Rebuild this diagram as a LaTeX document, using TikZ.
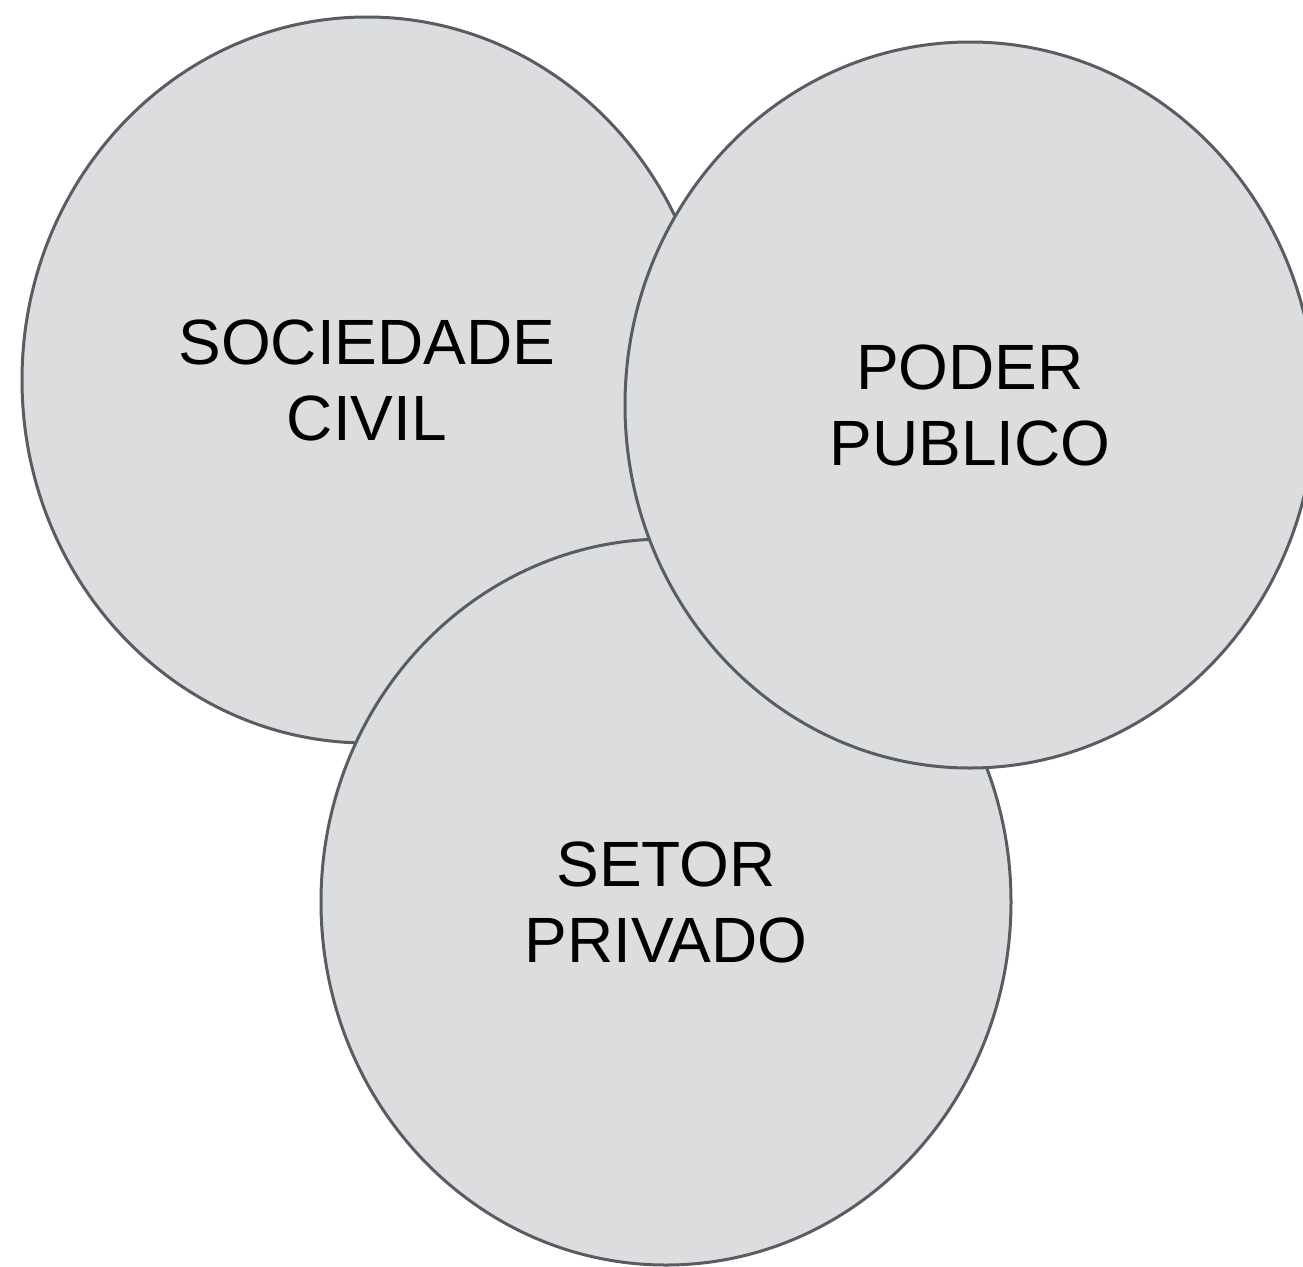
\documentclass[tikz,border=0pt]{standalone}
\usepackage{fontspec}
\setmainfont{Liberation Sans}
\usepackage{xcolor}
\usepackage{tikz}
\usetikzlibrary{shapes.geometric}
\definecolor{bolhafill}{HTML}{DCDDDF}
\definecolor{bolhaline}{HTML}{595C62}

\begin{document}
\begin{tikzpicture}[x=1pt,y=-1pt,
    bolha/.style={ellipse, draw=bolhaline, fill=bolhafill, line width=3pt,
      minimum width=690pt, minimum height=726pt, inner sep=0pt,
      align=center, font=\fontsize{64}{76}\selectfont}]
    \useasboundingbox (0,0) rectangle (1303,1266);
    \clip (0,0) rectangle (1303,1266);
    \node [bolha] (civil) at (367,380) {SOCIEDADE\\CIVIL};
    \node [bolha] (privado) at (666,902) {SETOR\\PRIVADO};
    \node [bolha] (publico) at (970,405) {PODER\\PUBLICO};
\end{tikzpicture}
\end{document}
